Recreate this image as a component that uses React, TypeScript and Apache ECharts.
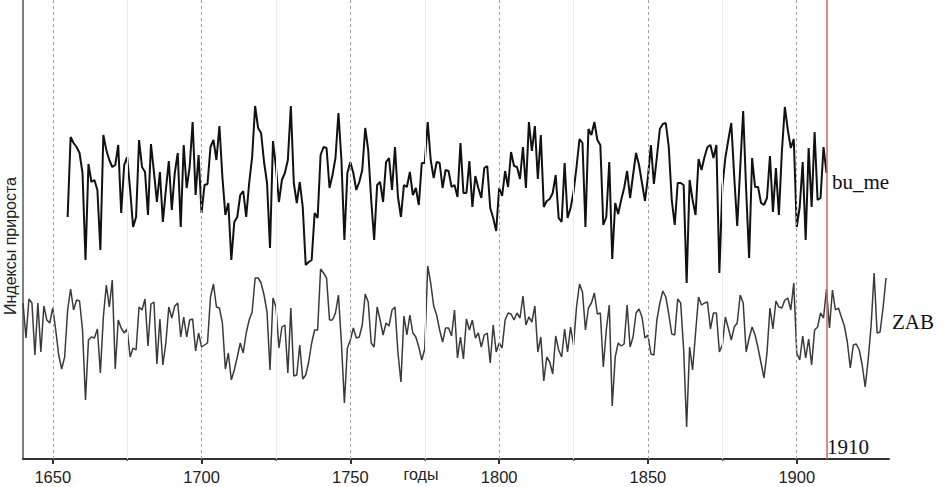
import React, { useEffect, useRef } from "react";
import * as echarts from "echarts";

const BU_START = 1655;
const BU_ME = [
  242, 322, 316, 312, 306,
  286, 199, 295, 277, 279, 269, 209, 324, 309, 299,
  292, 294, 314, 246, 294, 302, 269, 232, 242, 319,
  292, 287, 244, 315, 287, 257, 287, 237, 269, 298,
  249, 286, 306, 232, 314, 271, 292, 337, 264, 304,
  246, 274, 275, 312, 319, 299, 333, 282, 244, 256,
  199, 237, 242, 264, 268, 242, 276, 302, 353, 331,
  326, 297, 276, 211, 318, 292, 257, 279, 286, 299,
  353, 276, 256, 277, 252, 194, 197, 199, 246, 241,
  304, 312, 311, 271, 284, 301, 346, 299, 219, 286,
  297, 286, 269, 277, 289, 331, 309, 259, 219, 274,
  277, 257, 297, 301, 269, 312, 262, 242, 274, 272,
  287, 264, 271, 254, 296, 296, 337, 299, 281, 297,
  296, 271, 289, 288, 272, 274, 262, 316, 266, 266,
  298, 252, 283, 271, 261, 291, 293, 251, 241, 228,
  271, 263, 288, 272, 307, 293, 292, 280, 312, 271,
  337, 308, 333, 280, 324, 252, 258, 260, 266, 284,
  241, 237, 296, 241, 251, 267, 292, 320, 316, 232,
  330, 324, 337, 319, 314, 234, 242, 297, 200, 256,
  245, 259, 271, 288, 261, 284, 306, 294, 276, 258,
  282, 314, 275, 302, 330, 335, 336, 312, 259, 234,
  276, 276, 274, 176, 279, 259, 244, 300, 289, 302,
  312, 314, 301, 314, 186, 272, 301, 319, 336, 282,
  233, 291, 348, 269, 201, 301, 272, 272, 256, 254,
  261, 303, 247, 291, 244, 307, 352, 329, 311, 320,
  232, 252, 297, 219, 311, 252, 327, 259, 261, 312,
  286,
];

const ZAB_START = 1640;
const ZAB = [
  156, 121, 160, 156, 104, 156, 107, 153, 139, 136,
  151, 129, 104, 90, 102, 149, 170, 149, 159, 158,
  129, 59, 119, 122, 121, 130, 86, 142, 174, 152,
  179, 90, 139, 131, 126, 130, 102, 111, 109, 152,
  149, 160, 113, 155, 157, 95, 140, 94, 116, 152,
  141, 153, 156, 122, 142, 122, 139, 140, 108, 126,
  112, 114, 116, 162, 175, 152, 151, 136, 90, 106,
  79, 89, 102, 116, 106, 126, 139, 147, 181, 181,
  176, 164, 147, 89, 161, 152, 111, 132, 134, 86,
  151, 83, 84, 114, 80, 84, 97, 116, 129, 129,
  190, 186, 181, 139, 139, 146, 164, 116, 56, 111,
  119, 131, 121, 122, 134, 165, 157, 116, 112, 152,
  139, 124, 136, 133, 149, 152, 106, 77, 143, 124,
  144, 126, 122, 112, 99, 110, 193, 176, 153, 144,
  129, 117, 131, 131, 123, 149, 101, 122, 100, 140,
  129, 139, 121, 126, 112, 124, 126, 96, 134, 107,
  116, 111, 139, 146, 145, 139, 146, 141, 163, 134,
  142, 137, 153, 107, 122, 78, 102, 97, 85, 123,
  109, 102, 130, 107, 132, 114, 152, 175, 167, 129,
  151, 156, 166, 145, 146, 92, 129, 154, 53, 102,
  116, 113, 115, 154, 112, 122, 146, 150, 142, 121,
  124, 105, 104, 139, 156, 168, 162, 145, 125, 124,
  160, 156, 109, 32, 112, 89, 126, 162, 154, 156,
  157, 130, 146, 146, 107, 114, 142, 131, 119, 132,
  136, 164, 156, 107, 121, 132, 124, 111, 96, 81,
  106, 151, 130, 158, 152, 151, 159, 161, 149, 176,
  106, 99, 123, 101, 120, 94, 129, 132, 146, 141,
  170, 131, 169, 149, 151, 142, 133, 117, 91, 114,
  115, 109, 94, 72, 99, 134, 186, 126, 127, 151,
  181,
];

const MAJOR_TICKS = [1650, 1700, 1750, 1800, 1850, 1900];
const MINOR_TICKS = [1675, 1725, 1775, 1825, 1875];
const MARK_YEAR = 1910;
const X_MIN = 1640;
const X_MAX = 1931;
const Y_MIN = 0;
const Y_MAX = 459;

const SERIES_LABELS = ["bu_me", "ZAB"];
const AXIS_NAME_X = "годы";
const AXIS_NAME_Y = "Индексы прироста";

export default function App() {
  const ref = useRef<HTMLDivElement>(null);

  useEffect(() => {
    if (!ref.current) return;
    const chart = echarts.init(ref.current, null, { renderer: "svg" });
    const buData = BU_ME.map((v, i) => [BU_START + i, v]);
    const zabData = ZAB.map((v, i) => [ZAB_START + i, v]);

    const gridLines: any[] = [
      ...MINOR_TICKS.map((x) => ({
        xAxis: x,
        lineStyle: { color: "#ececec", width: 1, type: "solid" },
      })),
      ...MAJOR_TICKS.map((x) => ({
        xAxis: x,
        lineStyle: { color: "#a0a0a0", width: 1, type: [3, 3] },
      })),
      {
        xAxis: MARK_YEAR,
        lineStyle: { color: "#c9706c", width: 1.6, type: "solid" },
      },
    ];

    const serif = "'Liberation Serif', 'Times New Roman', serif";
    const sans = "'Liberation Sans', Arial, sans-serif";

    chart.setOption({
      animation: false,
      backgroundColor: "#ffffff",
      grid: { left: 23, right: 56, top: 0, bottom: 28, containLabel: false },
      xAxis: [
        {
          type: "value",
          min: X_MIN,
          max: X_MAX,
          axisLine: { show: true, lineStyle: { color: "#333", width: 2 } },
          axisTick: {
            show: true,
            customValues: MAJOR_TICKS,
            length: 5,
            lineStyle: { color: "#333", width: 2 },
          },
          axisLabel: {
            show: true,
            customValues: MAJOR_TICKS,
            color: "#222",
            fontSize: 16.5,
            fontFamily: sans,
            margin: 9,
            formatter: (v: number) => String(v),
          },
          splitLine: { show: false },
        },
        {
          type: "value",
          position: "bottom",
          min: X_MIN,
          max: X_MAX,
          axisLine: { show: false },
          axisTick: {
            show: true,
            customValues: MINOR_TICKS,
            length: 2,
            lineStyle: { color: "#555", width: 1.5 },
          },
          axisLabel: { show: false },
          splitLine: { show: false },
        },
      ],
      yAxis: {
        type: "value",
        min: Y_MIN,
        max: Y_MAX,
        axisLine: { show: true, lineStyle: { color: "#808080", width: 2 } },
        axisTick: { show: false },
        axisLabel: { show: false },
        splitLine: { show: false },
      },
      series: [
        {
          type: "line",
          data: [],
          z: 1,
          markLine: {
            silent: true,
            symbol: "none",
            label: { show: false },
            data: gridLines,
          },
        },
        {
          name: SERIES_LABELS[1],
          type: "line",
          data: zabData,
          z: 3,
          symbol: "none",
          lineStyle: { color: "#3a3a3a", width: 1.5 },
        },
        {
          name: SERIES_LABELS[0],
          type: "line",
          data: buData,
          z: 4,
          symbol: "none",
          lineStyle: { color: "#111", width: 2 },
        },
      ],
      graphic: [
        {
          type: "text",
          x: 832,
          y: 182,
          style: {
            text: SERIES_LABELS[0],
            fontFamily: serif,
            fontSize: 21,
            fill: "#111",
            verticalAlign: "middle",
            align: "left",
          },
        },
        {
          type: "text",
          x: 892,
          y: 322,
          style: {
            text: SERIES_LABELS[1],
            fontFamily: serif,
            fontSize: 21,
            fill: "#111",
            verticalAlign: "middle",
            align: "left",
          },
        },
        {
          type: "text",
          x: 827,
          y: 447,
          style: {
            text: String(MARK_YEAR),
            fontFamily: serif,
            fontSize: 21,
            fill: "#111",
            verticalAlign: "middle",
            align: "left",
          },
        },
        {
          type: "text",
          x: 421,
          y: 474,
          style: {
            text: AXIS_NAME_X,
            fontFamily: sans,
            fontSize: 16,
            fill: "#222",
            verticalAlign: "middle",
            align: "center",
          },
        },
        {
          type: "text",
          x: 10,
          y: 246,
          rotation: Math.PI / 2,
          style: {
            text: AXIS_NAME_Y,
            fontFamily: sans,
            fontSize: 16,
            fill: "#222",
            verticalAlign: "middle",
            align: "center",
          },
        },
      ],
    });

    return () => chart.dispose();
  }, []);

  return (
    <div
      ref={ref}
      style={{ position: "absolute", left: 0, top: 0, width: 945, height: 487 }}
    />
  );
}
